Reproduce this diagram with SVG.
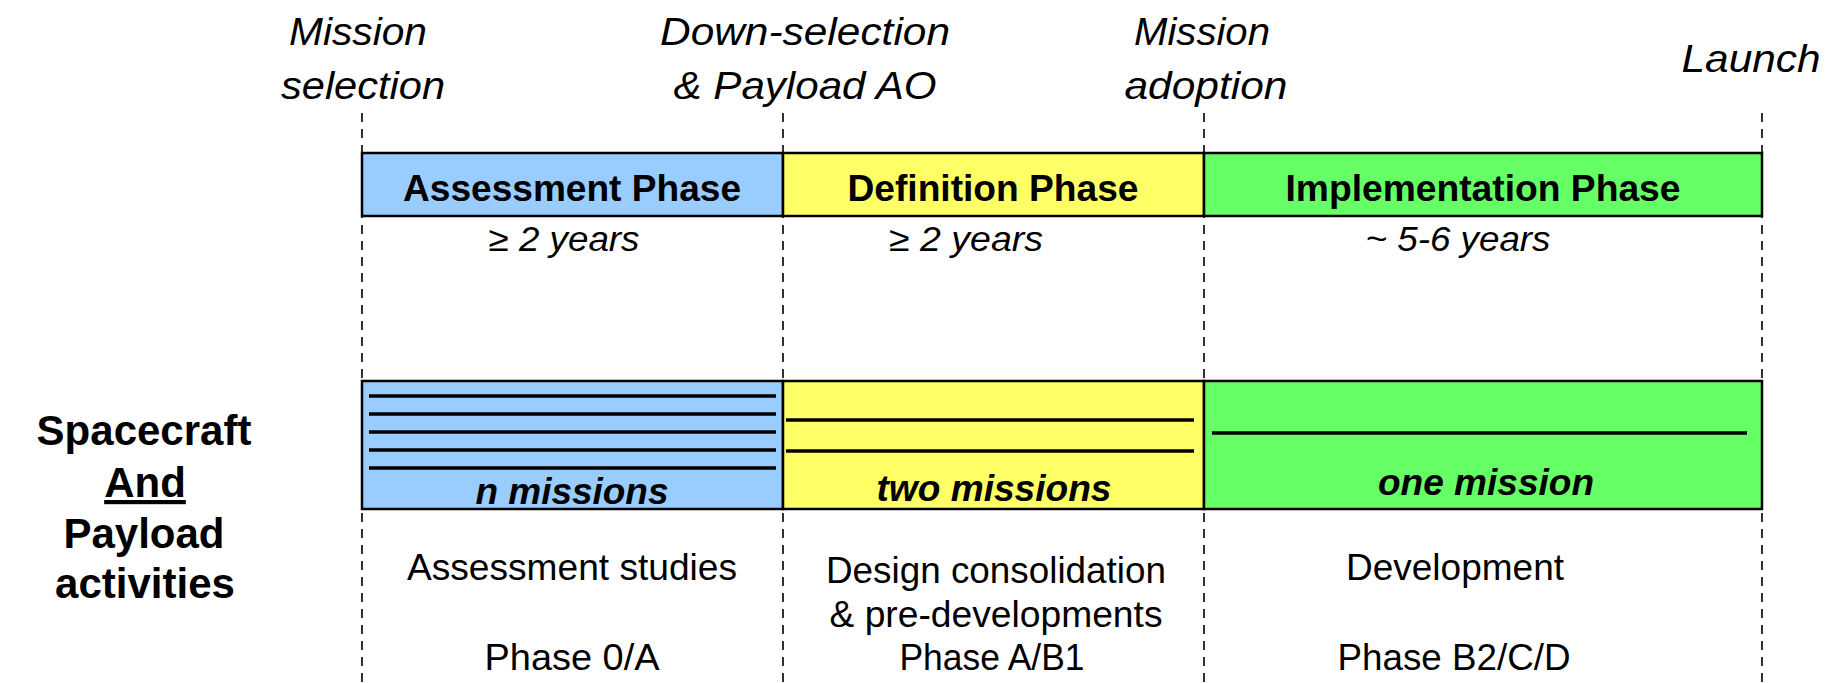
<svg xmlns="http://www.w3.org/2000/svg" width="1827" height="683" viewBox="0 0 1827 683">
<style>
text{font-family:"Liberation Sans",Arial,sans-serif;fill:#000;text-anchor:middle}
.ms{font-style:italic;font-size:38px}
.hd{font-weight:bold;font-size:36px}
.dur{font-style:italic;font-size:35px}
.cnt{font-style:italic;font-weight:bold;font-size:36px}
.act{font-size:36px}
.lbl{font-weight:bold;font-size:42px}
.dash{stroke:#000;stroke-width:1.6;stroke-dasharray:9 7;fill:none}
.box{stroke:#000;stroke-width:2.5}
.ml{stroke:#000;stroke-width:3.5}
</style>
<g id="connectors">
<line class="dash" x1="362" y1="113" x2="362" y2="683"/>
<line class="dash" x1="783" y1="113" x2="783" y2="683"/>
<line class="dash" x1="1204" y1="113" x2="1204" y2="683"/>
<line class="dash" x1="1762" y1="113" x2="1762" y2="683"/>
</g>
<g id="milestone-mission-selection">
<text class="ms" x="358" y="45" textLength="138" lengthAdjust="spacingAndGlyphs">Mission</text>
<text class="ms" x="363" y="99" textLength="164" lengthAdjust="spacingAndGlyphs">selection</text>
</g>
<g id="milestone-down-selection">
<text class="ms" x="805" y="45" textLength="290" lengthAdjust="spacingAndGlyphs">Down-selection</text>
<text class="ms" x="805" y="99" textLength="263" lengthAdjust="spacingAndGlyphs">&amp; Payload AO</text>
</g>
<g id="milestone-mission-adoption">
<text class="ms" x="1202" y="45" textLength="136" lengthAdjust="spacingAndGlyphs">Mission</text>
<text class="ms" x="1206" y="99" textLength="163" lengthAdjust="spacingAndGlyphs">adoption</text>
</g>
<g id="milestone-launch">
<text class="ms" x="1751" y="72" textLength="139" lengthAdjust="spacingAndGlyphs">Launch</text>
</g>
<g id="assessment-phase">
<rect class="box" x="362" y="153" width="421" height="63" fill="#99CCFF"/>
<text class="hd" x="572" y="201" textLength="338" lengthAdjust="spacingAndGlyphs">Assessment Phase</text>
<text class="dur" x="564" y="251" textLength="151" lengthAdjust="spacingAndGlyphs">≥ 2 years</text>
</g>
<g id="definition-phase">
<rect class="box" x="783" y="153" width="421" height="63" fill="#FFFF66"/>
<text class="hd" x="993" y="201" textLength="291" lengthAdjust="spacingAndGlyphs">Definition Phase</text>
<text class="dur" x="966" y="251" textLength="154" lengthAdjust="spacingAndGlyphs">≥ 2 years</text>
</g>
<g id="implementation-phase">
<rect class="box" x="1204" y="153" width="558" height="63" fill="#66FF66"/>
<text class="hd" x="1483" y="201" textLength="395" lengthAdjust="spacingAndGlyphs">Implementation Phase</text>
<text class="dur" x="1458" y="251" textLength="185" lengthAdjust="spacingAndGlyphs">~ 5-6 years</text>
</g>
<g id="label-spacecraft-payload">
<text class="lbl" x="144" y="445">Spacecraft</text>
<text class="lbl" x="145" y="497" text-decoration="underline">And</text>
<text class="lbl" x="144" y="548">Payload</text>
<text class="lbl" x="145" y="598">activities</text>
</g>
<g id="n-missions">
<rect class="box" x="362" y="381" width="421" height="128" fill="#99CCFF"/>
<line class="ml" x1="369" y1="396" x2="776" y2="396"/>
<line class="ml" x1="369" y1="414" x2="776" y2="414"/>
<line class="ml" x1="369" y1="432" x2="776" y2="432"/>
<line class="ml" x1="369" y1="450" x2="776" y2="450"/>
<line class="ml" x1="369" y1="468" x2="776" y2="468"/>
<text class="cnt" x="572" y="504" textLength="193" lengthAdjust="spacingAndGlyphs">n missions</text>
</g>
<g id="two-missions">
<rect class="box" x="783" y="381" width="421" height="128" fill="#FFFF66"/>
<line class="ml" x1="786" y1="420" x2="1194" y2="420"/>
<line class="ml" x1="786" y1="451" x2="1194" y2="451"/>
<text class="cnt" x="994" y="501" textLength="235" lengthAdjust="spacingAndGlyphs">two missions</text>
</g>
<g id="one-mission">
<rect class="box" x="1204" y="381" width="558" height="128" fill="#66FF66"/>
<line class="ml" x1="1212" y1="433" x2="1747" y2="433"/>
<text class="cnt" x="1486" y="495" textLength="216" lengthAdjust="spacingAndGlyphs">one mission</text>
</g>
<g id="activities-assessment">
<text class="act" x="572" y="580" textLength="330" lengthAdjust="spacingAndGlyphs">Assessment studies</text>
<text class="act" x="572" y="670" textLength="175" lengthAdjust="spacingAndGlyphs">Phase 0/A</text>
</g>
<g id="activities-definition">
<text class="act" x="996" y="583" textLength="340" lengthAdjust="spacingAndGlyphs">Design consolidation</text>
<text class="act" x="996" y="627" textLength="333" lengthAdjust="spacingAndGlyphs">&amp; pre-developments</text>
<text class="act" x="992" y="670" textLength="185" lengthAdjust="spacingAndGlyphs">Phase A/B1</text>
</g>
<g id="activities-implementation">
<text class="act" x="1455" y="580" textLength="218" lengthAdjust="spacingAndGlyphs">Development</text>
<text class="act" x="1454" y="670" textLength="233" lengthAdjust="spacingAndGlyphs">Phase B2/C/D</text>
</g>
</svg>
